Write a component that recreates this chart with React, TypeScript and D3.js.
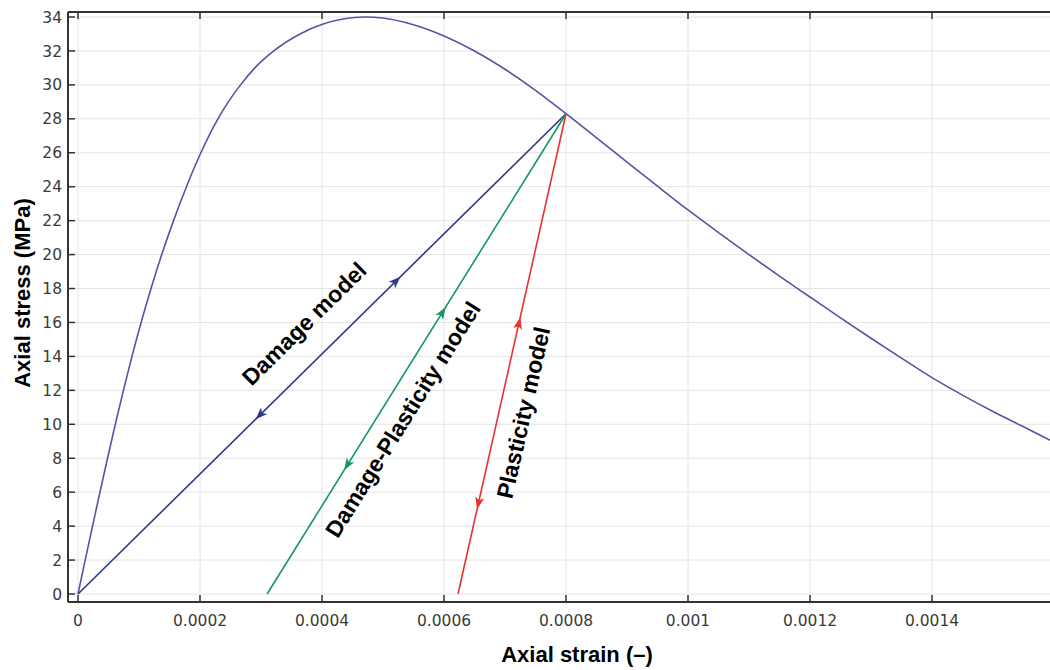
import React from "react";
import * as d3 from "d3";

const curveStrain = [0, 0.0000118, 0.0000238, 0.000036, 0.0000484, 0.0000612, 0.0000745, 0.0000885, 0.0001035, 0.0001197, 0.0001373, 0.0001566, 0.0001778, 0.0002014, 0.0002146, 0.0002294, 0.0002464, 0.0002664, 0.0002899, 0.0003209, 0.000364, 0.000403, 0.0004365, 0.00047, 0.0005, 0.00055, 0.0006, 0.00065, 0.0007, 0.00075, 0.0008, 0.00085, 0.0009, 0.00095, 0.001, 0.00105, 0.0011, 0.00115, 0.0012, 0.00125, 0.0013, 0.00135, 0.0014, 0.00145, 0.0015, 0.00155, 0.0016];
const curveStress = [0, 2, 4, 6, 8, 10, 12, 14, 16, 18, 20, 22, 24, 26, 27, 28, 29, 30, 31, 32, 33, 33.6, 33.9, 34.0, 33.94, 33.54, 32.88, 32.0, 30.92, 29.68, 28.3, 26.88, 25.45, 24.03, 22.63, 21.3, 20.0, 18.73, 17.5, 16.27, 15.07, 13.9, 12.75, 11.72, 10.75, 9.85, 8.95];

const reloadPoint = { strain: 0.0008, stress: 28.3 };
const modelNames = ["Damage model", "Damage-Plasticity model", "Plasticity model"];
const modelStartStrain = [0, 0.00031, 0.000623];
const modelColors = ["#2b3990", "#13985a", "#e8312f"];
const arrowUpStress = [18.7, 16.9, 16.3];
const arrowDownStress = [10.3, 7.3, 5.0];
const labelStress = [14.5, 11.0, 11.0];
const labelOffset = [-34, 23, 24];

const xTicks = [0, 0.0002, 0.0004, 0.0006, 0.0008, 0.001, 0.0012, 0.0014];
const xTickLabels = ["0", "0.0002", "0.0004", "0.0006", "0.0008", "0.001", "0.0012", "0.0014"];
const yTicks = [0, 2, 4, 6, 8, 10, 12, 14, 16, 18, 20, 22, 24, 26, 28, 30, 32, 34];

const W = 1050, H = 670;
const left = 68, right = 1062, top = 12, bottom = 602;

export default function App() {
  const x = d3.scaleLinear().domain([0, 0.001]).range([78, 688]);
  const y = d3.scaleLinear().domain([0, 34]).range([594, 17]);

  const pts = curveStrain.map((s, i) => [s, curveStress[i]] as [number, number]);
  const line = d3.line<[number, number]>().x(d => x(d[0])).y(d => y(d[1])).curve(d3.curveMonotoneX);

  const tickFont = "'DejaVu Sans', sans-serif";
  const boldFont = "'Liberation Sans', Arial, sans-serif";

  const models = modelNames.map((name, i) => {
    const x1 = x(modelStartStrain[i]), y1 = y(0);
    const x2 = x(reloadPoint.strain), y2 = y(reloadPoint.stress);
    const len = Math.hypot(x2 - x1, y2 - y1);
    const ux = (x2 - x1) / len, uy = (y2 - y1) / len;
    const atStress = (s: number) => {
      const t = s / reloadPoint.stress;
      return [x1 + (x2 - x1) * t, y1 + (y2 - y1) * t];
    };
    const arrow = (s: number, dir: number) => {
      const [px, py] = atStress(s);
      const dx = ux * dir, dy = uy * dir;
      const bx = px - dx * 12, by = py - dy * 12;
      const nx = -dy, ny = dx;
      return `M${px},${py}L${bx + nx * 4.5},${by + ny * 4.5}L${bx + dx * 3},${by + dy * 3}L${bx - nx * 4.5},${by - ny * 4.5}Z`;
    };
    const [lx0, ly0] = atStress(labelStress[i]);
    const nx = -uy, ny = ux;
    const lx = lx0 + nx * labelOffset[i], ly = ly0 + ny * labelOffset[i];
    const angle = (Math.atan2(uy, ux) * 180) / Math.PI;
    return { name, i, x1, y1, x2, y2, up: arrow(arrowUpStress[i], 1), down: arrow(arrowDownStress[i], -1), lx, ly, angle };
  });

  return (
    <svg width={W} height={H} style={{ position: "absolute", left: 0, top: 0, background: "#fff" }}>
      <defs>
        <clipPath id="plot">
          <rect x={left} y={top} width={right - left} height={bottom - top} />
        </clipPath>
      </defs>
      <rect x={0} y={0} width={W} height={H} fill="#fff" />
      <g stroke="#e4e4e4" strokeWidth={1}>
        {xTicks.map((t, i) => (
          <line key={"gx" + i} x1={x(t)} x2={x(t)} y1={top} y2={bottom} />
        ))}
        {yTicks.map((t, i) => (
          <line key={"gy" + i} x1={left} x2={right} y1={y(t)} y2={y(t)} />
        ))}
      </g>
      <g clipPath="url(#plot)">
        <path d={line(pts) || ""} fill="none" stroke="#5155a6" strokeWidth={1.6} />
        {models.map(m => (
          <g key={m.name}>
            <line x1={m.x1} y1={m.y1} x2={m.x2} y2={m.y2} stroke={modelColors[m.i]} strokeWidth={1.6} />
            <path d={m.up} fill={modelColors[m.i]} />
            <path d={m.down} fill={modelColors[m.i]} />
          </g>
        ))}
      </g>
      {models.map(m => (
        <text key={"lbl" + m.i} x={m.lx} y={m.ly} transform={`rotate(${m.angle},${m.lx},${m.ly})`} textAnchor="middle" dominantBaseline="central" fontFamily={boldFont} fontWeight="bold" fontSize={23} fill="#000">
          {m.name}
        </text>
      ))}
      <g stroke="#333" strokeWidth={2} fill="none">
        <line x1={left} x2={right} y1={top} y2={top} />
        <line x1={left} x2={right} y1={bottom} y2={bottom} />
        <line x1={left} x2={left} y1={top} y2={bottom} />
      </g>
      <g stroke="#333" strokeWidth={1.5}>
        {xTicks.map((t, i) => (
          <g key={"tx" + i}>
            <line x1={x(t)} x2={x(t)} y1={bottom} y2={bottom - 7} />
            <line x1={x(t)} x2={x(t)} y1={top} y2={top + 7} />
          </g>
        ))}
        {yTicks.map((t, i) => (
          <line key={"ty" + i} x1={left} x2={left + 7} y1={y(t)} y2={y(t)} />
        ))}
      </g>
      <g fontFamily={tickFont} fontSize={15.5} fill="#3a3a3a">
        {xTicks.map((t, i) => (
          <text key={"lx" + i} x={x(t)} y={626} textAnchor="middle">{xTickLabels[i]}</text>
        ))}
        {yTicks.map((t, i) => (
          <text key={"ly" + i} x={62} y={y(t)} dy="0.36em" textAnchor="end">{t}</text>
        ))}
      </g>
      <text x={577} y={662} textAnchor="middle" fontFamily={boldFont} fontWeight="bold" fontSize={22} fill="#000">Axial strain (–)</text>
      <text x={30} y={293} transform="rotate(-90,30,293)" textAnchor="middle" fontFamily={boldFont} fontWeight="bold" fontSize={22} fill="#000">Axial stress (MPa)</text>
    </svg>
  );
}
